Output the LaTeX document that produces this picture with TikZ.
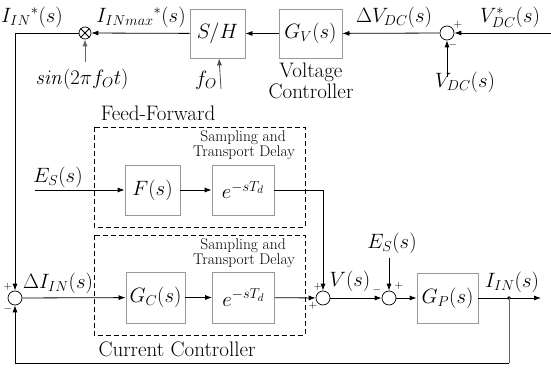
\documentclass[tikz,border=0pt]{standalone}
\usetikzlibrary{arrows.meta}
\begin{document}
\begin{tikzpicture}[x=1pt,y=-1pt,
  blk/.style={draw=black!40,line width=0.8pt,inner sep=0pt,font=\fontsize{21}{24}\selectfont},
  sumc/.style={draw,circle,line width=0.7pt,minimum size=14pt,inner sep=0pt},
  lab/.style={inner sep=0pt,font=\fontsize{22}{26}\selectfont},
  txt/.style={inner sep=0pt,font=\fontsize{21}{24}\selectfont},
  small/.style={inner sep=0pt,font=\fontsize{15.5}{18}\selectfont},
  sgn/.style={inner sep=0pt,font=\fontsize{11}{12}\selectfont},
  ln/.style={line width=0.8pt},
  arr/.style={ln,-{Latex[length=7pt,width=5pt]}},
  dbox/.style={dashed,line width=0.8pt,dash pattern=on 5pt off 3pt}]
\useasboundingbox (0,0) rectangle (551,371);
% ---- top row
\node[sumc,minimum size=12pt] (mult) at (85,33) {};
\draw[ln] (mult.north west) -- (mult.south east) (mult.north east) -- (mult.south west);
\node[blk,minimum width=55pt,minimum height=49pt] (sh) at (217.5,33.5) {$S/H$};
\node[blk,minimum width=63pt,minimum height=49pt] (gv) at (310.5,33.5) {$G_V(s)$};
\node[sumc] (sdc) at (447,33) {};
\coordinate (vin) at (551,33);
\coordinate (vdcin) at (447,77);
\coordinate (sinin) at (85,62);
\coordinate (foin) at (221,89);
\draw[arr] (vin) -- (sdc);
\draw[arr] (vdcin) -- (sdc);
\draw[arr] (sdc) -- (gv);
\draw[arr] (gv) -- (sh);
\draw[arr] (sh) -- (mult);
\draw[arr,draw=black!60] (sinin) -- (mult);
\draw[arr,draw=black!70] (foin) -- (sh);
\node[lab] at (32,17) {$I_{IN}{}^{*}(s)$};
\node[lab] at (141,17) {$I_{INmax}{}^{*}(s)$};
\node[lab] at (82,79) {$\mathit{sin}(2\pi f_O t)$};
\node[lab] at (206,80) {$f_O$};
\node[lab] at (394,17) {$\Delta V_{DC}(s)$};
\node[lab] at (510,17) {$V^{*}_{DC}(s)$};
\node[lab] at (465,82) {$V_{DC}(s)$};
\node[txt] at (311,72) {Voltage};
\node[txt] at (311,91) {Controller};
\node[sgn] at (458,25) {$+$};
\node[sgn] at (453,45) {$-$};
% ---- dashed boxes
\draw[dbox] (94,127) rectangle (305,227);
\draw[dbox] (94,235) rectangle (305,335);
\node[txt] at (158,113) {Feed-Forward};
\node[txt] at (177,349) {Current Controller};
\node[small] at (243,138) {Sampling and};
\node[small] at (244,153) {Transport Delay};
\node[small] at (243,246) {Sampling and};
\node[small] at (244,261) {Transport Delay};
% ---- feed-forward row
\coordinate (esin) at (35,190);
\node[blk,minimum width=55pt,minimum height=50pt] (f) at (152.5,190) {$F(s)$};
\node[blk,minimum width=62pt,minimum height=50pt] (e1) at (243,190) {$e^{-sT_d}$};
\node[lab] at (58,177) {$E_S(s)$};
\draw[arr] (esin) -- (f);
\draw[arr] (f) -- (e1);
% ---- main row
\node[sumc] (suml) at (15,298) {};
\node[blk,minimum width=59pt,minimum height=51pt] (gc) at (155.5,297.5) {$G_C(s)$};
\node[blk,minimum width=62pt,minimum height=51pt] (e2) at (243.5,297.5) {$e^{-sT_d}$};
\node[sumc] (summ) at (323,298) {};
\node[sumc] (sumr) at (389,298) {};
\node[blk,minimum width=61pt,minimum height=50pt] (gp) at (447.5,298) {$G_P(s)$};
\coordinate (out) at (541,298);
\coordinate (tap) at (509,298);
\coordinate (esin2) at (389,258);
\coordinate (fbl) at (15,363);
\coordinate (fbr) at (509,363);
\draw[arr] (mult) -| (suml);
\draw[arr] (suml) -- (gc);
\draw[arr] (gc) -- (e2);
\draw[arr] (e2) -- (summ);
\draw[arr] (e1) -| (summ);
\draw[arr] (summ) -- (sumr);
\draw[arr] (esin2) -- (sumr);
\draw[arr] (sumr) -- (gp);
\draw[arr] (gp) -- (out);
\fill (tap) circle (1.8pt);
\draw[ln,draw=black!60] (tap) -- (fbr);
\draw[arr] (fbr) -- (fbl) -- (suml);
\node[lab] at (58,283) {$\Delta I_{IN}(s)$};
\node[lab] at (350,281) {$V(s)$};
\node[lab] at (392,243) {$E_S(s)$};
\node[lab] at (512,282) {$I_{IN}(s)$};
\node[sgn] at (8,287) {$+$};
\node[sgn] at (8,309) {$-$};
\node[sgn] at (318,287) {$+$};
\node[sgn] at (313,306) {$+$};
\node[sgn] at (377,290) {$-$};
\node[sgn] at (399,286) {$+$};
\end{tikzpicture}
\end{document}
